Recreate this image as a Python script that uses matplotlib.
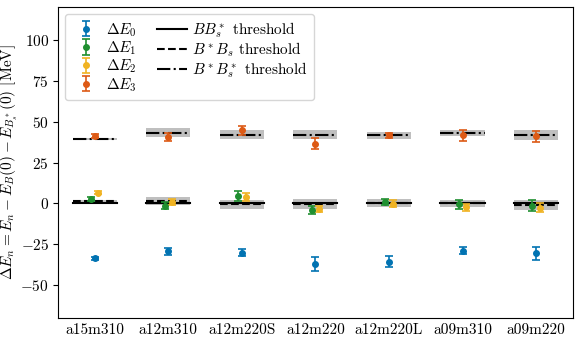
import matplotlib
matplotlib.use("Agg")
import matplotlib.pyplot as plt
import numpy as np
from matplotlib.lines import Line2D
from matplotlib.patches import Rectangle

plt.rcParams['mathtext.fontset'] = 'cm'
plt.rcParams['font.family'] = ['cmr10', 'DejaVu Serif']
plt.rcParams['axes.formatter.use_mathtext'] = True
plt.rcParams['font.size'] = 11

ensembles = ["a15m310", "a12m310", "a12m220S", "a12m220", "a12m220L", "a09m310", "a09m220"]

E0 = [-33.5, -29.3, -30.1, -37.0, -35.5, -28.8, -30.5]
E0_err = [1.0, 2.0, 2.0, 4.5, 3.5, 2.0, 4.0]
E1 = [2.7, -1.4, 4.5, -4.0, 1.0, -0.6, -1.3]
E1_err = [1.0, 2.2, 2.8, 2.5, 1.8, 2.5, 3.2]
E2 = [6.5, 0.9, 3.9, -3.4, -0.2, -2.4, -2.5]
E2_err = [1.0, 2.0, 2.5, 2.0, 2.2, 2.0, 3.0]
E3 = [41.3, 40.7, 44.7, 36.6, 41.5, 41.5, 40.9]
E3_err = [1.2, 2.5, 2.8, 3.2, 1.8, 3.2, 3.5]

thr_BBs_star = [0, 0, 0, 0, 0, 0, 0]
thr_BstarBs = [1.5, 1.5, -0.5, -0.6, 0.2, 0.0, -1.0]
thr_BstarBs_err = [0.8, 2.3, 2.8, 3.0, 2.4, 2.0, 3.2]
thr_BstarBs_star = [39.3, 43.3, 41.9, 41.9, 41.5, 43.1, 41.9]
thr_BstarBs_star_err = [0.6, 2.5, 2.8, 2.8, 2.4, 2.0, 3.2]

colors = ['#0173b2', '#1f8f30', '#f0b323', '#dd5a15']

fig = plt.figure(figsize=(5.81, 3.41), dpi=100)
ax = fig.add_axes([0.0998, 0.0674, 0.8862, 0.9121])

x = np.arange(len(ensembles))
hw = 0.3
for i in x:
    ax.fill_between([i - hw, i + hw], thr_BstarBs[i] - thr_BstarBs_err[i],
                    thr_BstarBs[i] + thr_BstarBs_err[i], color='gray', alpha=0.5, lw=0, zorder=1)
    ax.fill_between([i - hw, i + hw], thr_BstarBs_star[i] - thr_BstarBs_star_err[i],
                    thr_BstarBs_star[i] + thr_BstarBs_star_err[i], color='gray', alpha=0.5, lw=0, zorder=1)
    ax.plot([i - hw, i + hw], [thr_BBs_star[i]] * 2, color='black', ls='-', lw=1.5, zorder=2)
    ax.plot([i - hw, i + hw], [thr_BstarBs[i]] * 2, color='black', ls='--', lw=1.5, zorder=2)
    ax.plot([i - hw, i + hw], [thr_BstarBs_star[i]] * 2, color='black', ls='-.', lw=1.5, zorder=2)

offs = [0.0, -0.05, 0.05, 0.0]
data = [(E0, E0_err), (E1, E1_err), (E2, E2_err), (E3, E3_err)]
handles = []
for k, (v, e) in enumerate(data):
    h = ax.errorbar(x + offs[k], v, yerr=e, fmt='o', color=colors[k], ms=4,
                    capsize=3, elinewidth=1.2, capthick=1.2, zorder=3,
                    label=r'$\Delta E_%d$' % k)
    handles.append(h)

line_labels = [r'$BB_s^*$ threshold', r'$B^*B_s$ threshold', r'$B^*B_s^*$ threshold']
blank = Rectangle((0, 0), 0, 0, visible=False)
lh = [Line2D([], [], color='black', ls='-', lw=1.5),
      Line2D([], [], color='black', ls='--', lw=1.5),
      Line2D([], [], color='black', ls='-.', lw=1.5), blank]
ax.legend(handles + lh,
          [h.get_label() for h in handles] + line_labels + [''],
          ncol=2, loc='upper left', fontsize=11, handlelength=2.0,
          handletextpad=0.3, labelspacing=0.05, columnspacing=1.3,
          borderaxespad=0.45)

ax.set_xlim(-0.5, 6.5)
ax.set_ylim(-70, 120)
ax.set_xticks(x)
ax.set_xticklabels(ensembles)
ax.set_yticks([-50, -25, 0, 25, 50, 75, 100])
ax.tick_params(axis='x', length=0, pad=4)
ax.tick_params(axis='y', pad=3)
ax.set_ylabel(r'$\Delta E_n = E_n - E_B(0) - E_{B_s^*}(0)$ [MeV]')
ax.yaxis.set_label_coords(-0.074, 0.5)

fig.savefig('out.png', dpi=100)
